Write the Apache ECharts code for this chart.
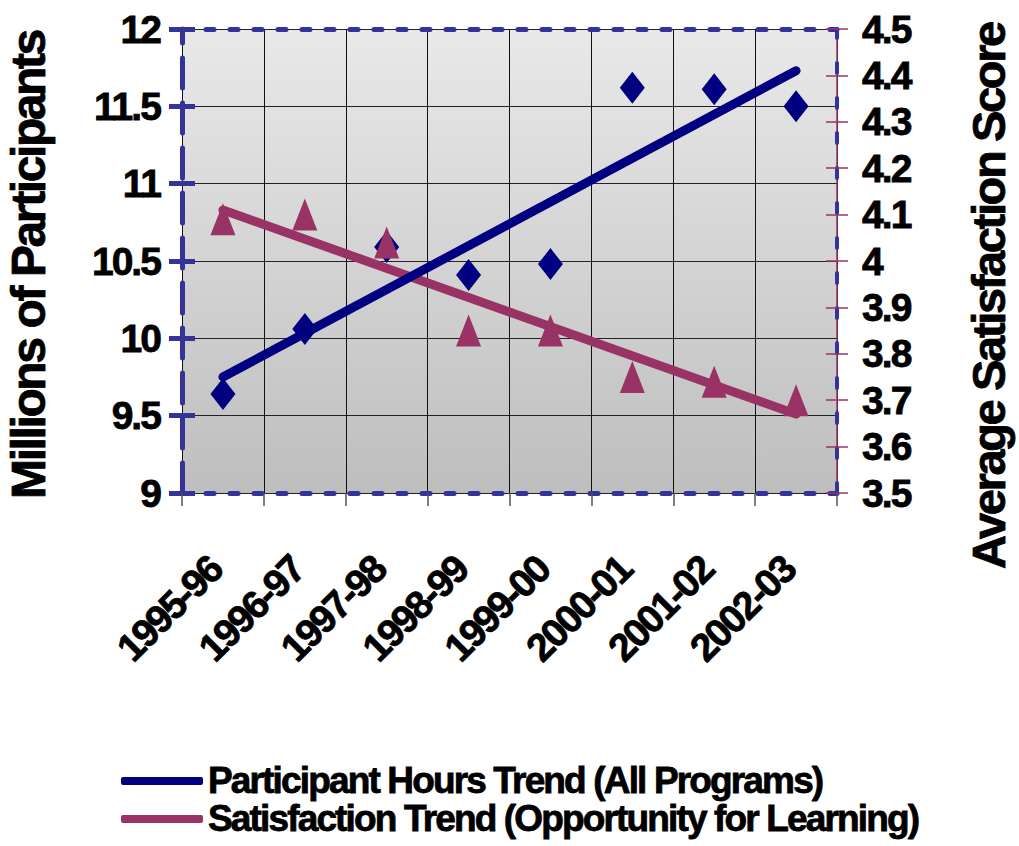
<!DOCTYPE html>
<html>
<head>
<meta charset="utf-8">
<script src="https://cdn.jsdelivr.net/npm/echarts@6/dist/echarts.min.js"></script>
<style>
  html, body { margin: 0; padding: 0; background: #fff; }
  #chart { width: 1019px; height: 846px; }
  #chart text { letter-spacing: -0.05em; }
</style>
</head>
<body>
<div id="chart"></div>
<script>
// values
const categories = ['1995-96', '1996-97', '1997-98', '1998-99', '1999-00', '2000-01', '2001-02', '2002-03'];
const hoursValues = [9.64, 10.06, 10.59, 10.41, 10.48, 11.62, 11.61, 11.50];
const satisfactionValues = [4.09, 4.10, 4.04, 3.85, 3.85, 3.75, 3.74, 3.70];
// trend lines: value at first and last category
const hoursTrend = [9.75, 11.73];
const satisfactionTrend = [4.11, 3.67];
const hoursRange = [9, 12, 0.5];
const satisfactionRange = [3.5, 4.5, 0.1];
const legendNames = ['Participant Hours Trend (All Programs)', 'Satisfaction Trend (Opportunity for Learning)'];

const NAVY = '#000080';
const PLUM = '#993366';
const BORDER = '#333399';
const FONT = "'Liberation Sans', Arial, sans-serif";

const chart = echarts.init(document.getElementById('chart'), null, { renderer: 'svg' });

const boldText = (size) => ({
  fontFamily: FONT, fontWeight: 'bold', fontSize: size, color: '#000',
  textBorderColor: '#000', textBorderWidth: 0.8
});

const leftAxisBase = {
  type: 'value', position: 'left',
  min: hoursRange[0], max: hoursRange[1], interval: hoursRange[2]
};
const rightAxisBase = {
  type: 'value', position: 'right',
  min: satisfactionRange[0], max: satisfactionRange[1], interval: satisfactionRange[2]
};

const legendBase = {
  orient: 'horizontal',
  left: 116,
  itemWidth: 82, itemHeight: 8,
  icon: 'roundRect',
  textStyle: boldText(37)
};

let option = {
  animation: false,
  grid: {
    left: 182, right: 182, top: 29, bottom: 353,
    containLabel: false,
    outerBoundsMode: 'none',
    show: true,
    borderWidth: 0,
    backgroundColor: {
      type: 'linear', x: 0, y: 0, x2: 0, y2: 1,
      colorStops: [{ offset: 0, color: '#e9e9e9' }, { offset: 1, color: '#bebebe' }]
    }
  },
  legend: [
    Object.assign({}, legendBase, { top: 757, data: [legendNames[0]] }),
    Object.assign({}, legendBase, { top: 795, data: [legendNames[1]] })
  ],
  xAxis: [
    {
      type: 'category', position: 'bottom',
      data: categories, boundaryGap: true,
      axisLine: { show: true, lineStyle: { color: BORDER, width: 5, type: [8, 16] } },
      axisTick: { show: true, length: 13, interval: 0, lineStyle: { color: '#555', width: 1.5 } },
      axisLabel: Object.assign({ interval: 0, rotate: 45, margin: 62, padding: [0, 11, 0, 0] }, boldText(39)),
      splitLine: { show: true, interval: 0, lineStyle: { color: '#111', width: 1 } }
    },
    {
      type: 'category', position: 'top',
      data: categories, boundaryGap: true,
      axisLine: { show: true, lineStyle: { color: BORDER, width: 5, type: [8, 16] } },
      axisTick: { show: false }, axisLabel: { show: false }, splitLine: { show: false }
    }
  ],
  yAxis: [
    Object.assign({}, leftAxisBase, {
      name: 'Millions of Participants',
      nameLocation: 'middle', nameRotate: 90, nameGap: 130,
      nameTextStyle: Object.assign(boldText(48), { padding: [0, 8, 0, 0] }),
      axisLine: { show: true, lineStyle: { color: BORDER, width: 5, type: [30, 15] } },
      axisTick: { show: true, length: 13, lineStyle: { color: BORDER, width: 5 } },
      axisLabel: Object.assign({ margin: 22 }, boldText(39)),
      splitLine: { show: true, lineStyle: { color: '#222', width: 1 } }
    }),
    Object.assign({}, leftAxisBase, {
      axisLine: { show: false },
      axisTick: { show: true, inside: true, length: 13, lineStyle: { color: BORDER, width: 5 } },
      axisLabel: { show: false }, splitLine: { show: false }
    }),
    Object.assign({}, rightAxisBase, {
      name: 'Average Satisfaction Score',
      nameLocation: 'middle', nameRotate: 90, nameGap: 128,
      nameTextStyle: Object.assign(boldText(47), { padding: [0, 70, 0, 0] }),
      axisLine: { show: true, lineStyle: { color: PLUM, width: 1.5 } },
      axisTick: { show: true, length: 11, lineStyle: { color: PLUM, width: 1.5 } },
      axisLabel: Object.assign({ margin: 25 }, boldText(39)),
      splitLine: { show: false }
    }),
    Object.assign({}, rightAxisBase, {
      axisLine: { show: true, lineStyle: { color: BORDER, width: 4, type: [10, 25] } },
      axisTick: { show: true, inside: true, length: 11, lineStyle: { color: PLUM, width: 1.5 } },
      axisLabel: { show: false }, splitLine: { show: false }
    })
  ],
  series: [
    {
      name: 'Participant Hours',
      type: 'scatter', xAxisIndex: 0, yAxisIndex: 0,
      data: hoursValues,
      symbol: 'diamond', symbolSize: [25, 32],
      itemStyle: { color: NAVY, opacity: 1 },
      silent: true
    },
    {
      name: 'Satisfaction',
      type: 'scatter', xAxisIndex: 0, yAxisIndex: 2,
      data: satisfactionValues,
      symbol: 'triangle', symbolSize: [25, 32],
      itemStyle: { color: PLUM, opacity: 1 },
      silent: true
    },
    {
      name: legendNames[1],
      type: 'line', xAxisIndex: 0, yAxisIndex: 2,
      data: [[categories[0], satisfactionTrend[0]], [categories[categories.length - 1], satisfactionTrend[1]]],
      showSymbol: false, symbol: 'none',
      itemStyle: { color: PLUM },
      lineStyle: { color: PLUM, width: 9, cap: 'round' },
      silent: true
    },
    {
      name: legendNames[0],
      type: 'line', xAxisIndex: 0, yAxisIndex: 0,
      data: [[categories[0], hoursTrend[0]], [categories[categories.length - 1], hoursTrend[1]]],
      showSymbol: false, symbol: 'none',
      itemStyle: { color: NAVY },
      lineStyle: { color: NAVY, width: 9, cap: 'round' },
      silent: true
    }
  ]
};

chart.setOption(option);
</script>
</body>
</html>
